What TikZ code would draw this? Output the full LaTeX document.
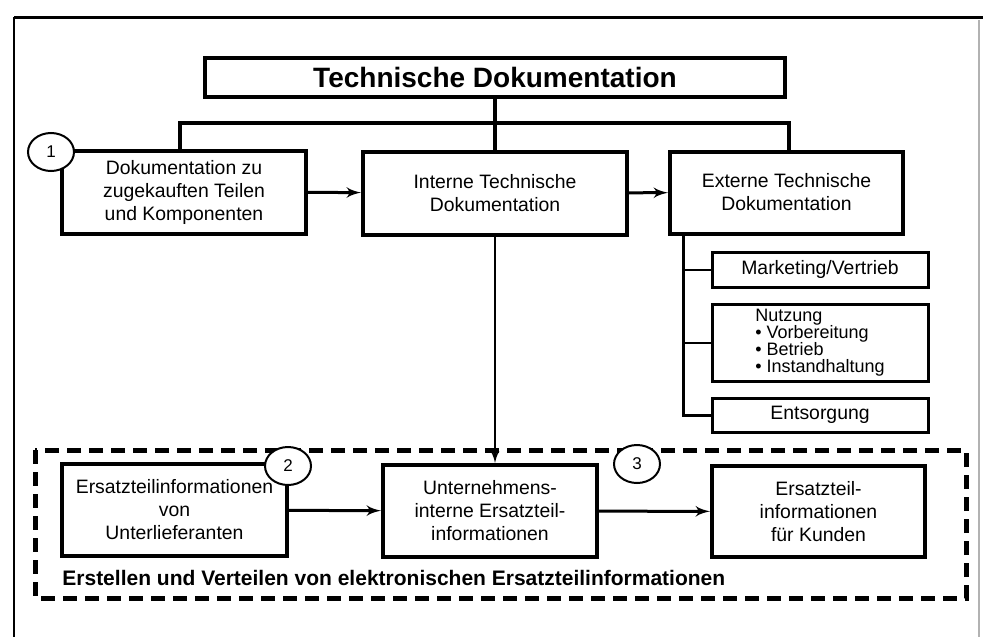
\documentclass[tikz,border=0pt]{standalone}
\usepackage{fontspec}
\setmainfont{Liberation Sans}
\usepackage{tikz}
\usetikzlibrary{arrows,shapes}
\tikzstyle{block}=[draw,line width=2pt,fill=white,align=center,inner sep=2pt,font=\fontsize{9.7}{11.5}\selectfont]
\tikzstyle{subblock}=[draw,line width=1.5pt,fill=white,align=center,minimum width=108pt,inner sep=1pt,font=\fontsize{9.7}{11.5}\selectfont]
\tikzstyle{marker}=[draw,ellipse,line width=1pt,fill=white,minimum width=23pt,minimum height=19pt,inner sep=0pt,font=\fontsize{8.5}{8.5}\selectfont]
\tikzstyle{bus} = [draw,line width=2pt,-]

\begin{document}
\begin{tikzpicture}[x=0.5pt,y=-0.5pt]
        \tikzset{edge/.style = {->,>=latex',line width=1.5pt}}
        \useasboundingbox (0,0) rectangle (983,637);
        % frame
        \draw[line width=1.5pt] (14,17) -- (983,17);
        \draw[line width=1pt] (14,17) -- (14,637);
        \draw[gray!60,line width=0.6pt] (979,20) -- (979,637);
        % first level
        \node[block,minimum width=290pt,minimum height=19.5pt,font=\fontsize{14}{16}\selectfont\bfseries] (td) at (495,77.5) {Technische Dokumentation};
        \node[block,minimum width=122pt,minimum height=41.5pt] (zuk) at (184,192) {Dokumentation zu\\zugekauften Teilen\\und Komponenten};
        \node[block,minimum width=132pt,minimum height=41.5pt] (int) at (495,193) {Interne Technische\\Dokumentation};
        \node[block,minimum width=116.5pt,minimum height=41pt] (ext) at (786.5,192.5) {Externe Technische\\Dokumentation};
        \coordinate (busM) at (495,123);
        \coordinate (busL) at (180,123);
        \coordinate (busR) at (789,123);
        \draw[bus] (td.south) -- (busM);
        \draw[bus] (busL |- zuk.north) -- (busL) -- (busR) -- (busR |- ext.north);
        \draw[bus] (busM) -- (int.north);
        \draw[edge] (zuk) -- (int);
        \draw[edge] (int) -- (ext);
        % external documentation
        \node[subblock,minimum height=17.5pt] (mkt) at (820,269.5) {Marketing/Vertrieb};
        \node[subblock,minimum height=38.5pt,font=\fontsize{9}{8.5}\selectfont,align=left] (nutz) at (820,342.5) {Nutzung\\\textbullet\ Vorbereitung\\\textbullet\ Betrieb\\\textbullet\ Instandhaltung};
        \node[subblock,minimum height=17pt] (ents) at (820,415) {Entsorgung};
        \coordinate (trunk) at (683,233);
        \draw[line width=1.5pt] (trunk) |- (ents.west);
        \draw[line width=1pt] (trunk |- mkt.west) -- (mkt.west);
        \draw[line width=1pt] (trunk |- nutz.west) -- (nutz.west);
        % spare parts
        \draw[line width=2.5pt,dash pattern=on 7pt off 4pt] (35,450) rectangle (966,598);
        \node[block,minimum width=112.5pt,minimum height=46pt] (unt) at (174.5,510) {Ersatzteilinformationen\\von\\Unterlieferanten};
        \node[block,minimum width=107pt,minimum height=46pt] (uie) at (490,511) {Unternehmens-\\interne Ersatzteil-\\informationen};
        \node[block,minimum width=106.5pt,minimum height=45.5pt] (kun) at (818.5,511.5) {Ersatzteil-\\informationen\\für Kunden};
        \draw[->,>=latex',line width=1pt] (int.south) -- (int.south |- uie.north);
        \draw[edge] (unt) -- (uie);
        \draw[edge] (uie) -- (kun);
        \node[anchor=west,inner sep=0pt,font=\fontsize{10.5}{12}\selectfont\bfseries] (title) at (62,578) {Erstellen und Verteilen von elektronischen Ersatzteilinformationen};
        % markers
        \node[marker] (m1) at (51,152) {1};
        \node[marker] (m2) at (288,466) {2};
        \node[marker] (m3) at (637,464) {3};
      \end{tikzpicture}
\end{document}
